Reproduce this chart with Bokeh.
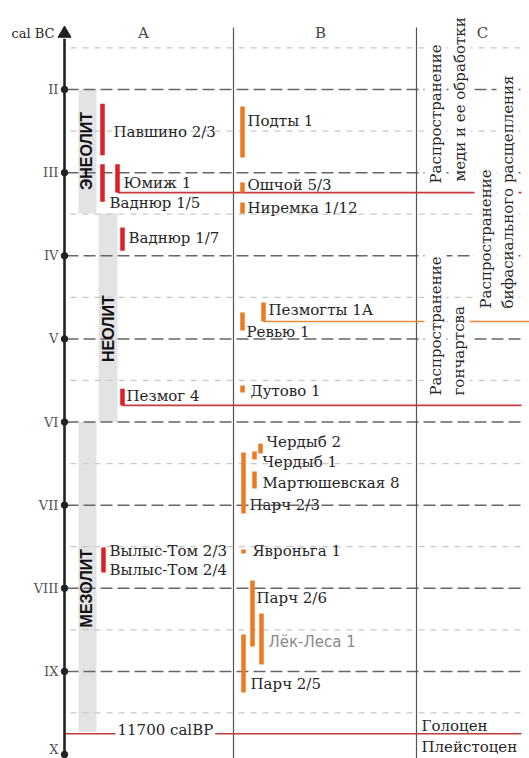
import math
from bokeh.plotting import figure
from bokeh.models import Range1d
from bokeh.core.properties import value
from bokeh.embed import file_html
from bokeh.resources import INLINE

# ---------------- data (years cal BC) ----------------
millennia = [2000, 3000, 4000, 5000, 6000, 7000, 8000, 9000, 10000]
tick_labels = ["II", "III", "IV", "V", "VI", "VII", "VIII", "IX", "X"]
half_millennia = [1500, 2500, 3500, 4500, 5500, 6500, 7500, 8500, 9500]

periods = ["ЭНЕОЛИТ", "НЕОЛИТ", "МЕЗОЛИТ"]
period_start = [2000, 3490, 6000]
period_end = [3490, 6000, 9730]

# column A (red): date ranges
a_sites = ["Павшино 2/3", "Ваднюр 1/5", "Юмиж 1", "Ваднюр 1/7", "Пезмог 4", "Вылыс-Том 2/3, 2/4"]
a_start = [2170, 2900, 2900, 3660, 5600, 7510]
a_end = [2790, 3350, 3240, 3940, 5800, 7810]
a_labels = ["Павшино 2/3", "Юмиж 1", "Ваднюр 1/5", "Ваднюр 1/7", "Пезмог 4",
            "Вылыс-Том 2/3", "Вылыс-Том 2/4"]
a_label_year = [2505, 3119, 3371, 3792, 5681, 7546, 7786]

# column B (orange): date ranges
b_sites = ["Подты 1", "Ошчой 5/3", "Ниремка 1/12", "Пезмогты 1А", "Ревью 1", "Дутово 1",
           "Чердыб 2", "Чердыб 1", "Мартюшевская 8", "Парч 2/3", "Явроньга 1",
           "Парч 2/6", "Лёк-Леса 1", "Парч 2/5"]
b_start = [2205, 3119, 3359, 4562, 4683, 5561, 6259, 6355, 6595, 6367, 7534, 7907, 8304, 8556]
b_end = [2818, 3240, 3492, 4790, 4900, 5645, 6379, 6451, 6800, 7100, 7582, 8701, 8917, 9253]
b_label_year = [2373, 3143, 3431, 4647, 4923, 5621, 6235, 6487, 6728, 7004, 7546, 8123, 8641, 9146]

# horizon lines
red_line_year = [3240, 5800, 9750]
orange_line_year = [4790]
boundary_text = "11700 calBP"
epochs = ["Голоцен", "Плейстоцен"]
epoch_year = [9651, 9904]

# column C rotated notes (two lines each) and their base year
c_lines = ["Распространение", "меди и ее обработки",
           "Распространение", "бифасиального расщепления",
           "Распространение", "гончартсва"]
c_base_year = [3155, 3131, 4659, 4659, 5705, 5705]

columns = ["A", "B", "C"]

# ---------------- layout ----------------
X0, X1 = 0, 529
RIGHT = 521
AXIS_X = 64
a_bar_x = [102, 102, 117, 122, 122, 103]
a_label_x = [113, 123, 109, 128, 126, 109, 109]
b_bar_x = [242, 242, 242, 263, 242, 242, 260, 254, 254, 243, 243, 252, 261, 243]
b_label_x = [247, 247, 247, 268, 246, 250, 266, 262, 262, 249, 252, 256, 268, 250]
red_line_x0 = [117, 122, AXIS_X]
orange_line_x0 = [263]
period_left = [78, 98, 78]
period_right = [96, 117, 96]
period_text_x = [86, 107.5, 86]
period_text_year = [2740, 4876, 8000]
col_sep_x = [233, 416]
header_x = [143, 320, 482]
header_year = 1326
c_x = [435, 459, 485, 507, 435, 458]
tick_label_dy = [0, 0, 0, 0, 0, 0, 0, 0, -5]

RED = "#dd1f26"
ORANGE = "#ec7a23"
RED_LINE = "#c43c3c"
ORANGE_LINE = "#ee8a3a"
TXT = "#262626"
SERIF = value("DejaVu Serif")

p = figure(width=529, height=758, output_backend="svg", toolbar_location=None,
           x_range=Range1d(X0, X1), y_range=Range1d(10048, 929),
           x_axis_location=None, y_axis_location=None, min_border=0)
p.grid.grid_line_color = None
p.outline_line_color = None
p.background_fill_color = "white"
p.border_fill_color = "white"

# period bars
p.quad(left=period_left, right=period_right, top=period_start, bottom=period_end,
       fill_color="#e3e3e3", line_color=None)

# minor dashed lines
p.segment(x0=[70] * len(half_millennia), x1=[RIGHT] * len(half_millennia),
          y0=half_millennia, y1=half_millennia,
          line_color="#c8c8c8", line_width=1.2, line_dash="6 6")
# major dashed lines (II..IX)
maj = millennia[:-1]
p.segment(x0=[AXIS_X + 2] * len(maj), x1=[RIGHT] * len(maj), y0=maj, y1=maj,
          line_color="#666666", line_width=1.5, line_dash="12 5")

# column separators
p.segment(x0=col_sep_x, x1=col_sep_x, y0=[1254, 1254], y1=[10048, 10048],
          line_color="#555555", line_width=1.2)

# horizon lines
p.segment(x0=red_line_x0, x1=[RIGHT] * 3, y0=red_line_year, y1=red_line_year,
          line_color=RED_LINE, line_width=1.6)
p.segment(x0=orange_line_x0, x1=[X1], y0=orange_line_year, y1=orange_line_year,
          line_color=ORANGE_LINE, line_width=1.6)

# axis
p.segment(x0=[AXIS_X], x1=[AXIS_X], y0=[1390], y1=[10048], line_color="#222222", line_width=2.6)
p.scatter(x=[AXIS_X], y=[1326], marker="triangle", size=13, color="#222222")
p.scatter(x=[AXIS_X] * len(millennia), y=millennia, size=6.5, color="#222222")
p.text(x=[58] * len(millennia), y=millennia, text=tick_labels, y_offset=tick_label_dy,
       text_font=SERIF, text_font_size="13px", text_color="#555555",
       text_align="right", text_baseline="middle")
p.text(x=[11], y=[header_year], text=["cal BC"], text_font=SERIF, text_font_size="13px",
       text_color=TXT, text_align="left", text_baseline="middle")
p.text(x=header_x, y=[header_year] * 3, text=columns, text_font=SERIF, text_font_size="15px",
       text_color="#444444", text_align="center", text_baseline="middle")

# site bars
p.segment(x0=a_bar_x, x1=a_bar_x, y0=a_start, y1=a_end, line_color=RED, line_width=4.5)
p.segment(x0=b_bar_x, x1=b_bar_x, y0=b_start, y1=b_end, line_color=ORANGE, line_width=4.5)

# period labels
p.text(x=period_text_x, y=period_text_year, text=periods, angle=math.pi / 2,
       text_font=value("Liberation Sans"), text_font_style="bold", text_font_size="16px",
       text_color="#111111", text_align="center", text_baseline="middle")

# site labels
p.text(x=a_label_x, y=a_label_year, text=a_labels, text_font=SERIF, text_font_size="15px",
       text_color=TXT, text_align="left", text_baseline="middle")
serif_idx = [i for i, s in enumerate(b_sites) if s != "Лёк-Леса 1"]
sans_idx = [i for i, s in enumerate(b_sites) if s == "Лёк-Леса 1"]
p.text(x=[b_label_x[i] for i in serif_idx], y=[b_label_year[i] for i in serif_idx],
       text=[b_sites[i] for i in serif_idx], text_font=SERIF, text_font_size="15px",
       text_color=TXT, text_align="left", text_baseline="middle")
p.text(x=[b_label_x[i] for i in sans_idx], y=[b_label_year[i] for i in sans_idx],
       text=[b_sites[i] for i in sans_idx], text_font=value("DejaVu Sans"), text_font_size="15px",
       text_color="#8a8a8a", text_align="left", text_baseline="middle")

# boundary label
p.text(x=[115], y=[9711], text=[boundary_text], text_font=SERIF, text_font_size="15px",
       text_color=TXT, text_align="left", text_baseline="middle",
       background_fill_color="white", padding=2)
p.text(x=[421, 421], y=epoch_year, text=epochs, text_font=SERIF, text_font_size="15px",
       text_color=TXT, text_align="left", text_baseline="middle")

# column C notes
p.text(x=c_x, y=c_base_year, text=c_lines, angle=math.pi / 2, text_font=SERIF,
       text_font_size="15px", text_color=TXT, text_align="left", text_baseline="middle",
       background_fill_color="white", padding=2)

open("out.html", "w").write(file_html(p, INLINE))
